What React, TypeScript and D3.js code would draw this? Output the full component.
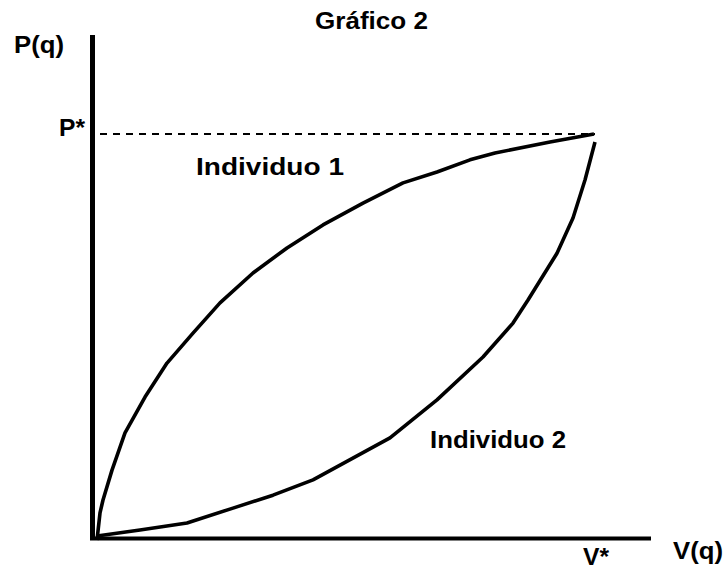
import * as d3 from "d3"

// V(q) / P(q), in arbitrary units (V* = 100, P* = 100)
const indiv1V = [0.4, 1, 1.6, 3.4, 6, 10, 14.4, 19.6, 25, 31.6, 38.4, 45.6, 53.6, 61.6, 68.4, 75, 80, 91, 99.8]
const indiv1P = [-0.5, 6.2, 9.4, 16.8, 26, 34.9, 43.3, 50.7, 58.2, 65.6, 71.8, 77.5, 82.9, 87.9, 90.6, 93.6, 95.3, 98, 100]
const indiv2V = [0.4, 9, 18.4, 27.6, 35.6, 43.6, 59, 68.4, 77.6, 83.6, 86.6, 92.4, 95.6, 98, 100]
const indiv2P = [0.5, 2, 3.7, 7.4, 10.6, 14.4, 24.8, 34.2, 44.8, 53.2, 58.9, 70.5, 79.2, 88.6, 98]

const title = "Gráfico 2"
const yLabel = "P(q)"
const xLabel = "V(q)"
const pStar = "P*"
const vStar = "V*"
const seriesNames = ["Individuo 1", "Individuo 2"]

const width = 726
const height = 570
const font = "'Liberation Sans', Arial, sans-serif"

export default function App() {
  const x = d3.scaleLinear().domain([0, 100]).range([95, 595])
  const y = d3.scaleLinear().domain([0, 100]).range([538, 134])

  const line = d3
    .line<[number, number]>()
    .x((d) => x(d[0]))
    .y((d) => y(d[1]))
    .curve(d3.curveLinear)

  const s1 = indiv1V.map((v, i) => [v, indiv1P[i]] as [number, number])
  const s2 = indiv2V.map((v, i) => [v, indiv2P[i]] as [number, number])

  const txt = {
    fontFamily: font,
    fontWeight: "bold" as const,
    fontSize: 23,
    fill: "#000",
  }

  return (
    <svg
      width={width}
      height={height}
      viewBox={`0 0 ${width} ${height}`}
      style={{ position: "absolute", left: 0, top: 0, background: "#fff" }}
    >
      {/* axes */}
      <line x1={x(-0.5)} x2={x(-0.5)} y1={35} y2={540} stroke="#000" strokeWidth={5} />
      <line x1={90} x2={651} y1={y(-0.15)} y2={y(-0.15)} stroke="#000" strokeWidth={4} />

      {/* P* guide */}
      <line
        x1={x(1)}
        x2={x(100)}
        y1={y(100)}
        y2={y(100)}
        stroke="#000"
        strokeWidth={2}
        strokeDasharray="7 6"
      />

      <path d={line(s1) ?? ""} fill="none" stroke="#000" strokeWidth={3.6} strokeLinejoin="round" />
      <path d={line(s2) ?? ""} fill="none" stroke="#000" strokeWidth={3.6} strokeLinejoin="round" />

      <text x={315} y={29} textLength={113} lengthAdjust="spacingAndGlyphs" style={txt}>
        {title}
      </text>
      <text x={14} y={53} textLength={50} lengthAdjust="spacingAndGlyphs" style={txt}>
        {yLabel}
      </text>
      <text x={59} y={y(100) + 2} textLength={26} lengthAdjust="spacingAndGlyphs" style={txt}>
        {pStar}
      </text>
      <text x={196} y={175} textLength={148} lengthAdjust="spacingAndGlyphs" style={txt}>
        {seriesNames[0]}
      </text>
      <text x={430} y={448} textLength={136} lengthAdjust="spacingAndGlyphs" style={txt}>
        {seriesNames[1]}
      </text>
      <text x={x(100) - 12} y={565} textLength={26} lengthAdjust="spacingAndGlyphs" style={txt}>
        {vStar}
      </text>
      <text x={673} y={559} textLength={50} lengthAdjust="spacingAndGlyphs" style={txt}>
        {xLabel}
      </text>
    </svg>
  )
}
